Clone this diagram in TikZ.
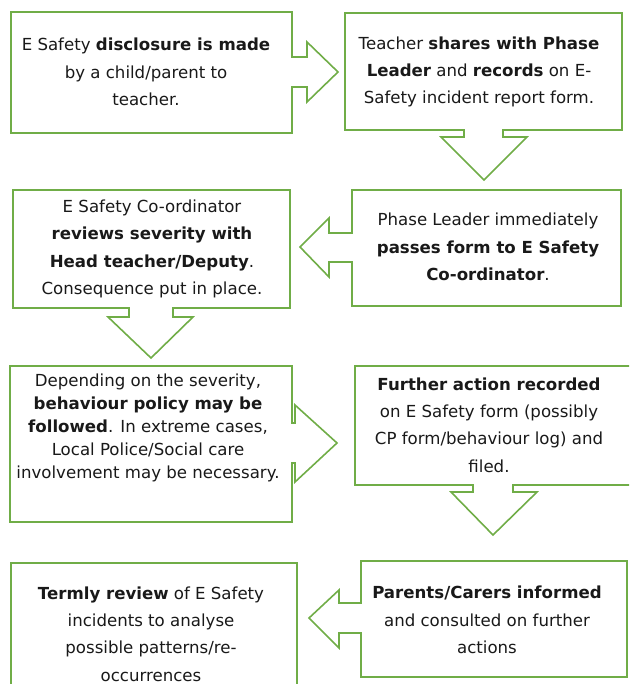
\documentclass[tikz,border=0pt]{standalone}
\usepackage{fontspec}
\setmainfont{DejaVu Sans}
\begin{document}
\begin{tikzpicture}[x=1pt,y=-1pt,
  callout/.style={draw=boxgreen,line width=1.6pt,line join=miter,fill=white},
  txt/.style={align=center,text=black!90,inner sep=0pt,font=\fontsize{16.6}{27.3}\selectfont},
  tighttxt/.style={txt,font=\fontsize{16.6}{22.8}\selectfont}]
\definecolor{boxgreen}{HTML}{70AD47}
\useasboundingbox (0,0) rectangle (629,684);
\clip (0,0) rectangle (629,684);
% box 1
\draw[callout] (11,12) -- (292,12) -- (292,57) -- (307,57) -- (307,42) -- (338,72) -- (307,102) -- (307,87) -- (292,87) -- (292,133) -- (11,133) -- cycle;
% box 2
\draw[callout] (345,13) -- (622,13) -- (622,130) -- (503,130) -- (503,137) -- (527,137) -- (484,180) -- (441,137) -- (464,137) -- (464,130) -- (345,130) -- cycle;
% box 3
\draw[callout] (352,190) -- (621,190) -- (621,306) -- (352,306) -- (352,262) -- (329,262) -- (329,277) -- (300,247) -- (329,218) -- (329,233) -- (352,233) -- cycle;
% box 4
\draw[callout] (13,190) -- (290,190) -- (290,308) -- (173,308) -- (173,317) -- (193,317) -- (151,358) -- (108,317) -- (129,317) -- (129,308) -- (13,308) -- cycle;
% box 5
\draw[callout] (10,366) -- (292,366) -- (292,423) -- (295,423) -- (295,405) -- (337,443) -- (295,482) -- (295,463) -- (292,463) -- (292,522) -- (10,522) -- cycle;
% box 6
\draw[callout] (355,366) -- (640,366) -- (640,485) -- (513,485) -- (513,492) -- (537,492) -- (493,535) -- (451,492) -- (473,492) -- (473,485) -- (355,485) -- cycle;
% box 7
\draw[callout] (11,700) -- (11,563) -- (297,563) -- (297,700);
% box 8
\draw[callout] (361,561) -- (627,561) -- (627,677) -- (361,677) -- (361,633) -- (339,633) -- (339,648) -- (309,618) -- (339,590) -- (339,603) -- (361,603) -- cycle;

\node[txt] (t1) at (146,72) {E Safety \textbf{disclosure is made}\\by a child/parent to\\teacher.};
\node[txt] (t2) at (479,72) {Teacher \textbf{shares with Phase}\\\textbf{Leader} and \textbf{records} on E-\\Safety incident report form.};
\node[txt] (t3) at (488,247) {Phase Leader immediately\\\textbf{passes form to E Safety}\\\textbf{Co-ordinator}.};
\node[txt] (t4) at (152,249) {E Safety Co-ordinator\\\textbf{reviews severity with}\\\textbf{Head teacher/Deputy}.\\Consequence put in place.};
\node[tighttxt] (t5) at (148,428) {Depending on the severity,\\\textbf{behaviour policy may be}\\\textbf{followed}. In extreme cases,\\Local Police/Social care\\involvement may be necessary.};
\node[txt] (t6) at (489,425) {\textbf{Further action recorded}\\on E Safety form (possibly\\CP form/behaviour log) and\\filed.};
\node[txt] (t7) at (151,634) {\textbf{Termly review} of E Safety\\incidents to analyse\\possible patterns/re-\\occurrences};
\node[txt] (t8) at (487,620) {\textbf{Parents/Carers informed}\\and consulted on further\\actions};
\end{tikzpicture}
\end{document}
